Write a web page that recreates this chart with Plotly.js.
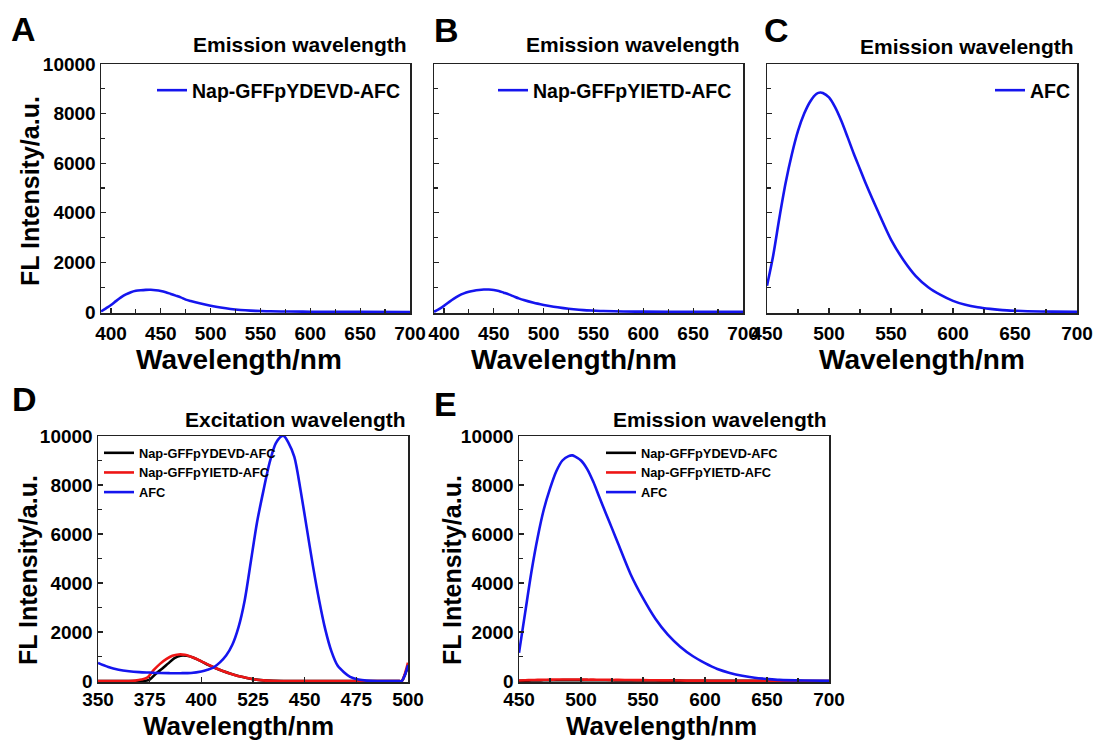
<!DOCTYPE html>
<html>
<head>
<meta charset="utf-8">
<script src="https://cdn.plot.ly/plotly-3.0.1.min.js"></script>
<style>
html,body{margin:0;padding:0;background:#fff;}
#chart{width:1094px;height:740px;}
</style>
</head>
<body>
<div id="chart"></div>
<script>
// ---------------- DATA ----------------
// Panel A: Nap-GFFpYDEVD-AFC emission
const wlA = [390,395,400,405,410,415,420,425,430,435,440,445,450,455,460,465,470,475,480,490,500,510,520,530,540,550,560,580,600,650,700];
const fA  = [20,150,280,440,590,710,800,855,880,893,895,880,850,800,730,660,590,500,440,340,255,180,120,80,55,40,28,18,12,6,3];

// Panel B: Nap-GFFpYIETD-AFC emission
const wlB = [390,395,400,405,410,415,420,425,430,435,440,445,450,455,460,465,470,475,480,490,500,510,520,530,540,550,560,580,600,650,700];
const fB  = [10,120,250,400,540,660,750,815,860,890,905,905,890,850,780,710,630,550,480,370,285,210,155,110,75,55,38,22,14,7,4];

// Panel C: AFC emission
const wlC = [450,455,460,465,470,475,480,485,490,493,495,500,505,510,515,520,525,530,540,550,560,570,580,590,600,610,620,630,640,650,660,680,700];
const fC  = [1060,2280,3800,5200,6350,7300,8000,8500,8800,8850,8830,8650,8250,7700,7050,6380,5760,5140,4000,2920,2100,1450,1000,690,450,290,190,125,75,50,32,15,8];

// Panel D: excitation spectra
const wlD_devd = [350,360,370,372,375,378,381,384,387,390,393,396,400,405,410,415,420,425,430,435,440,460,480,495,497,498.5,500];
const fD_devd  = [0,0,0,0,60,300,500,720,935,1035,1030,960,800,590,420,280,160,75,25,5,0,0,0,0,0,250,600];
const wlD_ietd = [350,360,365,368,371,374,377,380,383,386,389,392,395,398,401,404,407,410,413,416,419,422,426,430,434,440,460,480,495,497,498.5,500];
const fD_ietd  = [0,0,0,15,60,150,450,700,890,1030,1085,1070,990,890,760,640,520,420,330,250,180,125,60,25,8,0,0,0,0,0,300,750];
const wlD_afc  = [350,355,360,365,370,375,380,385,390,395,400,403,406,409,412,415,418,421,424,427,430,433,436,439,440,442,445,448,451,454,457,460,463,466,469,472,476,480,485,490,495,497,498.5,500];
const fD_afc   = [738,570,460,400,365,345,325,320,320,330,390,460,560,760,1040,1480,2200,3300,4900,6500,7750,8900,9700,10000,10000,9750,9150,7800,6250,4700,3300,2100,1200,620,360,170,60,15,0,0,0,0,250,650];
const tickD = [350,375,400,425,450,475,500];
const tickDText = ['350','375','400','525','450','475','500'];

// Panel E: emission spectra
const wlE = [450,455,460,465,470,475,480,485,490,493,495,500,505,510,515,520,525,530,540,550,560,570,580,590,600,610,620,630,640,650,660,680,700];
const fE_afc  = [1150,2800,4450,5850,7000,7850,8550,9000,9180,9210,9170,9000,8650,8120,7480,6850,6230,5600,4360,3380,2540,1890,1400,1020,730,490,330,215,135,85,45,20,10];
const fE_devd = [10,15,20,25,30,30,30,35,35,35,35,35,35,30,30,30,30,25,25,20,20,15,15,10,10,10,5,5,5,5,0,0,0];
const fE_ietd = [20,30,40,45,50,55,60,60,60,60,60,60,55,55,50,50,45,45,40,35,30,25,20,15,15,10,10,10,5,5,5,0,0];

const names = ['Nap-GFFpYDEVD-AFC','Nap-GFFpYIETD-AFC','AFC'];
const xTitle = 'Wavelength/nm';
const yTitle = 'FL Intensity/a.u.';

// ---------------- STYLE ----------------
const FONT = 'Liberation Sans, Arial, Helvetica, sans-serif';
const W = 1094, H = 740;
const px = v => v / W;
const py = v => 1 - v / H;
const BLUE = '#1515ee', RED = '#ee1515', BLACK = '#000000';
const LW = 2.6;

function line(x, y, name, color, xa, ya, leg) {
  return {x: x, y: y, name: name, type: 'scatter', mode: 'lines',
    line: {color: color, width: LW, shape: 'spline', smoothing: 0.8},
    xaxis: xa, yaxis: ya, legend: leg, hoverinfo: 'skip'};
}

const traces = [
  line(wlA, fA, names[0], BLUE, 'x', 'y', 'legend'),
  line(wlB, fB, names[1], BLUE, 'x2', 'y2', 'legend2'),
  line(wlC, fC, names[2], BLUE, 'x3', 'y3', 'legend3'),
  line(wlD_devd, fD_devd, names[0], BLACK, 'x4', 'y4', 'legend4'),
  line(wlD_ietd, fD_ietd, names[1], RED, 'x4', 'y4', 'legend4'),
  line(wlD_afc, fD_afc, names[2], BLUE, 'x4', 'y4', 'legend4'),
  line(wlE, fE_devd, names[0], BLACK, 'x5', 'y5', 'legend5'),
  line(wlE, fE_ietd, names[1], RED, 'x5', 'y5', 'legend5'),
  line(wlE, fE_afc, names[2], BLUE, 'x5', 'y5', 'legend5')
];

const tickFont = {family: FONT, size: 19, color: '#000', weight: 'bold'};

function base() {
  return {
    showline: true, linecolor: '#222', linewidth: 1.5, mirror: true,
    showgrid: false, zeroline: false,
    ticks: 'inside', ticklen: 5, tickwidth: 1.3, tickcolor: '#222',
    tickfont: tickFont, fixedrange: true
  };
}
function xaxis(dom, anchor, range, opts) {
  return Object.assign(base(), {
    domain: [px(dom[0]), px(dom[1])], anchor: anchor, range: range
  }, opts);
}
function yaxis(dom, anchor, showLabels) {
  return Object.assign(base(), {
    domain: [py(dom[1]), py(dom[0])], anchor: anchor, range: [-40, 10000],
    tick0: 0, dtick: 2000, tickformat: 'd', showticklabels: showLabels,
    minor: {dtick: 1000, ticks: 'inside', ticklen: 4, tickcolor: '#222', tickwidth: 1.2}
  });
}
const minor25 = {dtick: 25, tick0: 0, ticks: 'inside', ticklen: 4, tickcolor: '#222', tickwidth: 1.2};

const topRow = [64, 313], botRow = [436, 682];

function legendAt(x, y, size) {
  return {x: px(x), xanchor: 'left', y: py(y), yanchor: 'top',
    bgcolor: 'rgba(0,0,0,0)', borderwidth: 0, itemwidth: 30,
    font: {family: FONT, size: size, color: '#000', weight: 'bold'},
    itemclick: false, itemdoubleclick: false};
}

function ann(text, x, y, xanchor, size, angle) {
  return {text: text, x: px(x), y: py(y), xref: 'paper', yref: 'paper',
    xanchor: xanchor, yanchor: 'middle', showarrow: false, textangle: angle || 0,
    borderpad: 0,
    font: {family: FONT, size: size, color: '#000', weight: 'bold'}};
}

const layout = {
  width: W, height: H, margin: {l: 0, r: 0, t: 0, b: 0},
  paper_bgcolor: '#fff', plot_bgcolor: '#fff', showlegend: true,
  font: {family: FONT, color: '#000'},
  xaxis:  xaxis([101, 410], 'y',  [390, 700], {tick0: 400, dtick: 50, minor: minor25, ticklabelstandoff: 3}),
  yaxis:  yaxis(topRow, 'x', true),
  xaxis2: xaxis([434, 743], 'y2', [390, 700], {tick0: 400, dtick: 50, minor: minor25, ticklabelstandoff: 3}),
  yaxis2: yaxis(topRow, 'x2', false),
  xaxis3: xaxis([767, 1077], 'y3', [450, 700], {tick0: 450, dtick: 50, minor: minor25, ticklabelstandoff: 3}),
  yaxis3: yaxis(topRow, 'x3', false),
  xaxis4: xaxis([98, 408], 'y4', [350, 500], {tickmode: 'array', tickvals: tickD, ticktext: tickDText}),
  yaxis4: yaxis(botRow, 'x4', true),
  xaxis5: xaxis([519, 829], 'y5', [450, 700], {tick0: 450, dtick: 50, minor: minor25}),
  yaxis5: yaxis(botRow, 'x5', true),
  legend:  legendAt(152, 71, 19.5),
  legend2: legendAt(493, 71, 19.5),
  legend3: legendAt(990, 71, 19.5),
  legend4: legendAt(99, 438, 12.8),
  legend5: legendAt(601, 438, 12.8),
  annotations: [
    ann('A', 10, 29, 'left', 34),
    ann('B', 433, 30, 'left', 34),
    ann('C', 763, 30, 'left', 34),
    ann('D', 11, 399, 'left', 34),
    ann('E', 433, 404, 'left', 34),
    ann('Emission wavelength', 408, 44, 'right', 21),
    ann('Emission wavelength', 741, 44, 'right', 21),
    ann('Emission wavelength', 1075, 46, 'right', 21),
    ann('Excitation wavelength', 407, 419, 'right', 21),
    ann('Emission wavelength', 828, 419, 'right', 21),
    ann(xTitle, 239, 359, 'center', 28),
    ann(xTitle, 574, 359, 'center', 28),
    ann(xTitle, 922, 359, 'center', 28),
    ann(xTitle, 238, 725.5, 'center', 26),
    ann(xTitle, 661, 725.5, 'center', 26),
    ann(yTitle, 30, 191, 'center', 25, -90),
    ann(yTitle, 28, 570, 'center', 25, -90),
    ann(yTitle, 452, 570, 'center', 25, -90)
  ]
};

Plotly.newPlot('chart', traces, layout, {staticPlot: true, displayModeBar: false});
</script>
</body>
</html>
